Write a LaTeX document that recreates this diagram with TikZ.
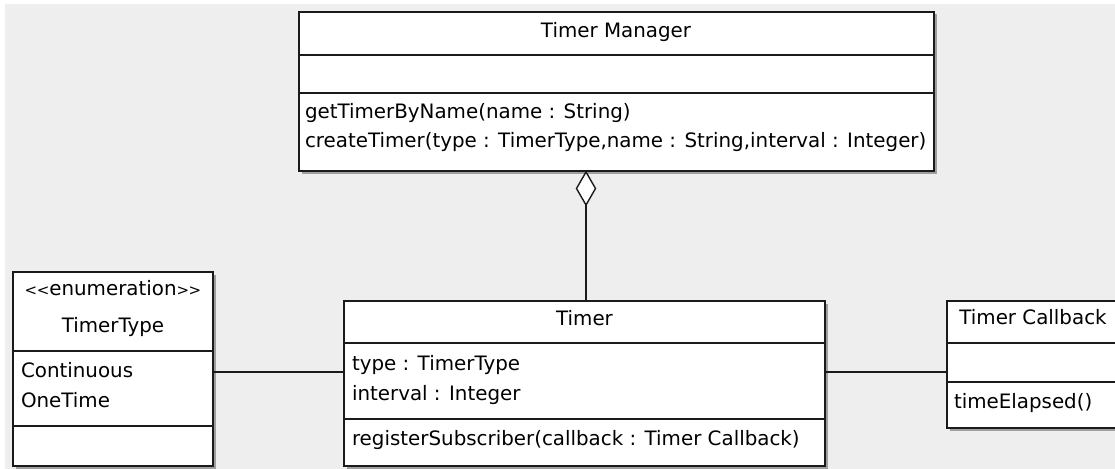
\documentclass[tikz,border=0pt]{standalone}
\usepackage{fontspec}
\setmainfont{DejaVu Sans}
\usetikzlibrary{shapes.geometric,shadows}
\definecolor{bggray}{HTML}{EEEEEE}
\definecolor{linecol}{HTML}{1A1A1A}
\newcommand{\smlt}{{\fontsize{15}{15}\selectfont<\kern-0.5pt{}<}}
\newcommand{\smgt}{{\fontsize{15}{15}\selectfont>\kern-0.5pt{}>}}
\tikzset{
  cls/.style={draw=linecol, line width=1.4pt, fill=white, rectangle, inner sep=0pt, outer sep=0pt,
    anchor=north west,
    drop shadow={shadow xshift=2.5pt, shadow yshift=-2.5pt, fill=black!45, opacity=0.8}},
  sep/.style={draw=linecol, line width=1.4pt},
  conn/.style={draw=linecol, line width=1.4pt},
  txt/.style={inner sep=0pt, outer sep=0pt, anchor=base west, font=\fontsize{19.85}{24}\selectfont},
  ttl/.style={inner sep=0pt, outer sep=0pt, anchor=base, font=\fontsize{19.85}{24}\selectfont},
  aggd/.style={draw=linecol, line width=1.4pt, fill=white, diamond, inner sep=0pt, outer sep=0pt,
    minimum width=19pt, minimum height=33pt, anchor=north}
}
\begin{document}
\begin{tikzpicture}[x=1pt,y=-1pt]
\useasboundingbox (0,0) rectangle (1115,468);
\clip (0,0) rectangle (1115,468);
\fill[white] (0,0) rectangle (1115,468);
\fill[bggray] (5,4) rectangle (1120,475);

% Timer Manager
\node[cls, minimum width=635pt, minimum height=159pt] (tm) at (299,12) {};
\draw[sep] (299,55) -- (934,55);
\draw[sep] (299,93) -- (934,93);
\node[ttl] (tmt) at (616,38) {Timer Manager};
\node[txt] (tmm1) at (305,118) {getTimerByName(name : String)};
\node[txt] (tmm2) at (305,147) {createTimer(type : TimerType,name : String,interval : Integer)};

% TimerType
\node[cls, minimum width=200pt, minimum height=194pt] (tt) at (13,272) {};
\draw[sep] (13,351) -- (213,351);
\draw[sep] (13,426) -- (213,426);
\node[ttl] (tts) at (113,295) {\smlt enumeration\smgt};
\node[ttl] (ttt) at (113,332) {TimerType};
\node[txt] (tta1) at (21,377) {Continuous};
\node[txt] (tta2) at (21,407) {OneTime};

% Timer
\node[cls, minimum width=481pt, minimum height=165pt] (timer) at (344,301) {};
\draw[sep] (344,343) -- (825,343);
\draw[sep] (344,419) -- (825,419);
\node[ttl] (tit) at (584.5,325) {Timer};
\node[txt] (tia1) at (352,370) {type : TimerType};
\node[txt] (tia2) at (352,400) {interval : Integer};
\node[txt] (tim1) at (352,445) {registerSubscriber(callback : Timer Callback)};

% Timer Callback
\node[cls, minimum width=172pt, minimum height=127pt] (cb) at (947,301) {};
\draw[sep] (947,343) -- (1119,343);
\draw[sep] (947,382) -- (1119,382);
\node[ttl] (cbt) at (1033,324) {Timer Callback};
\node[txt] (cbm1) at (954,408) {timeElapsed()};

% Aggregation
\node[aggd] (agg) at (586,172) {};
\draw[conn] (agg.south) -- (agg.south |- timer.north);

% Associations
\coordinate (ly) at (0,372);
\draw[conn] (tt.east |- ly) -- (timer.west |- ly);
\draw[conn] (timer.east |- ly) -- (cb.west |- ly);
\end{tikzpicture}
\end{document}
